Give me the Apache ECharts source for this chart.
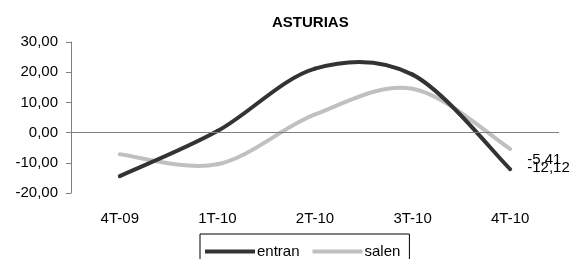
<!DOCTYPE html>
<html>
<head>
<meta charset="utf-8">
<script src="https://cdn.jsdelivr.net/npm/echarts@6/dist/echarts.min.js"></script>
<style>
  html, body { margin: 0; padding: 0; background: #fff; }
  #chart { width: 573px; height: 259px; }
</style>
</head>
<body>
<div id="chart"></div>
<script>
// trimestres
var categories = ['4T-09', '1T-10', '2T-10', '3T-10', '4T-10'];
var entran = [-14.4, 0.5, 21.2, 19.2, -12.12];
var salen = [-7.2, -10.5, 6.0, 14.5, -5.41];
var yTicks = [-20, -10, 0, 10, 20, 30];

function fmt(v) {
    return Number(v).toFixed(2).replace('.', ',');
}

var font = '"Liberation Sans", Arial, sans-serif';

// curva suavizada tipo Excel (Catmull-Rom) a partir de los puntos del eje
function curveSeries(name, vals, color, labelOffset, z) {
    return {
        name: name,
        type: 'custom',
        z: z,
        itemStyle: { color: color },
        encode: { x: 0, y: 1 },
        data: vals.map(function (v, i) { return [i, v]; }),
        renderItem: function (params, api) {
            var i = params.dataIndex;
            if (i === 0) return { type: 'group', children: [] };
            var p = vals.map(function (v, k) { return api.coord([k, v]); });
            var p0 = p[Math.max(i - 2, 0)], p1 = p[i - 1], p2 = p[i], p3 = p[Math.min(i + 1, p.length - 1)];
            var children = [{
                type: 'bezierCurve',
                shape: {
                    x1: p1[0], y1: p1[1], x2: p2[0], y2: p2[1],
                    cpx1: p1[0] + (p2[0] - p0[0]) / 6, cpy1: p1[1] + (p2[1] - p0[1]) / 6,
                    cpx2: p2[0] - (p3[0] - p1[0]) / 6, cpy2: p2[1] - (p3[1] - p1[1]) / 6
                },
                style: { stroke: color, lineWidth: 4, fill: null, lineCap: 'round' }
            }];
            if (i === vals.length - 1) {
                children.push({
                    type: 'text',
                    x: p2[0] + labelOffset[0],
                    y: p2[1] + labelOffset[1],
                    style: {
                        text: fmt(vals[i]),
                        fontSize: 15,
                        fontFamily: font,
                        fill: '#000',
                        align: 'left',
                        verticalAlign: 'middle'
                    }
                });
            }
            return { type: 'group', children: children };
        }
    };
}

var chart = echarts.init(document.getElementById('chart'));
var sEntran = curveSeries('entran', entran, '#333333', [17, -1], 3);
sEntran.markLine = {
    silent: true,
    symbol: 'none',
    label: { show: false },
    lineStyle: { color: '#808080', width: 1, type: 'solid' },
    data: [{ yAxis: 0 }]
};
var sSalen = curveSeries('salen', salen, '#c0c0c0', [17, 11], 2);

var option = {
    animation: false,
    textStyle: { fontFamily: font },
    title: {
        text: 'ASTURIAS',
        left: 267,
        top: 10,
        textStyle: { fontSize: 15, fontWeight: 'bold', color: '#000', fontFamily: font }
    },
    legend: {
        data: ['entran', 'salen'],
        left: 200,
        top: 234,
        padding: [10, 9, 10, 5],
        itemGap: 13,
        itemWidth: 50,
        itemHeight: 4,
        icon: 'rect',
        borderColor: '#000',
        borderWidth: 1,
        borderRadius: 0,
        textStyle: { fontSize: 15, color: '#000', fontFamily: font, padding: [0, 0, 0, -3] }
    },
    grid: { left: 71, right: 14, top: 42, bottom: 66, containLabel: false },
    xAxis: {
        type: 'category',
        data: categories,
        boundaryGap: true,
        axisLine: { show: false, onZero: false },
        axisTick: { show: false },
        axisLabel: { margin: 18, fontSize: 15, color: '#000', fontFamily: font }
    },
    yAxis: {
        type: 'value',
        min: yTicks[0],
        max: yTicks[yTicks.length - 1],
        interval: 10,
        axisLine: { show: true, lineStyle: { color: '#808080', width: 1 } },
        axisTick: { show: true, inside: false, length: 5, lineStyle: { color: '#808080' } },
        splitLine: { show: false },
        axisLabel: { margin: 13, fontSize: 15, color: '#000', fontFamily: font, formatter: fmt }
    },
    series: [sEntran, sSalen]
};
chart.setOption(option);
</script>
</body>
</html>
